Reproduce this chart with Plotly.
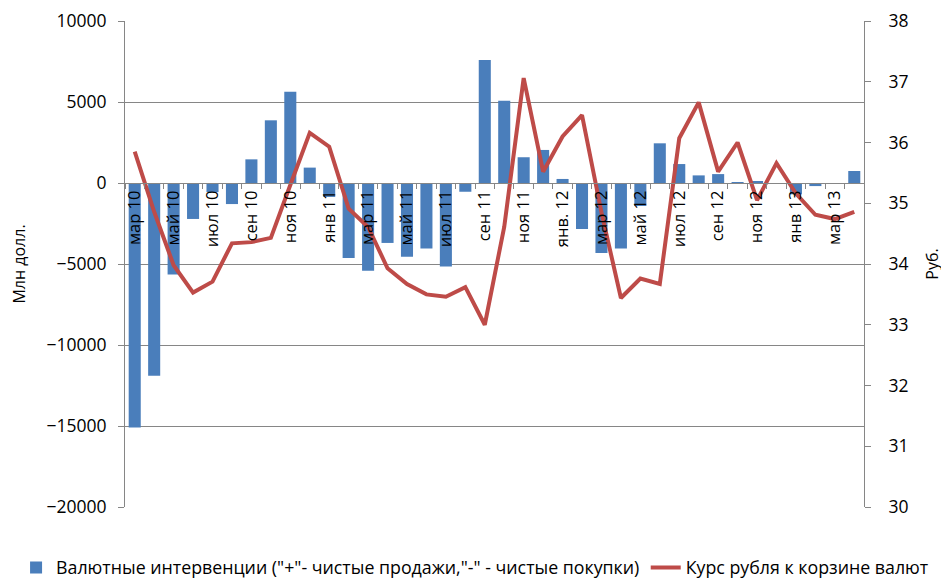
import plotly.graph_objects as go

months = ["мар 10", "апр 10", "май 10", "июн 10", "июл 10", "авг 10", "сен 10", "окт 10",
          "ноя 10", "дек 10", "янв 11", "фев 11", "мар 11", "апр 11", "май 11", "июн 11",
          "июл 11", "авг 11", "сен 11", "окт 11", "ноя 11", "дек 11", "янв. 12", "фев 12",
          "мар 12", "апр 12", "май 12", "июн 12", "июл 12", "авг 12", "сен 12", "окт 12",
          "ноя 12", "дек 12", "янв 13", "фев 13", "мар 13", "апр 13"]

interventions = [-15100, -11900, -5650, -2220, -560, -1300, 1460, 3870,
                 5640, 950, -860, -4630, -5410, -3700, -4550, -4050,
                 -5160, -540, 7590, 5080, 1590, 2040, 250, -2840,
                 -4320, -4050, -1420, 2450, 1170, 470, 550, 60,
                 80, 0, -700, -190, 0, 740]

rate = [35.85, 34.86, 33.98, 33.53, 33.71, 34.34, 34.36, 34.43,
        35.30, 36.16, 35.93, 34.91, 34.61, 33.93, 33.67, 33.50,
        33.46, 33.62, 33.00, 34.61, 37.06, 35.52, 36.10, 36.45,
        34.85, 33.44, 33.76, 33.67, 36.07, 36.66, 35.52, 36.00,
        35.05, 35.66, 35.16, 34.81, 34.74, 34.86]

tick_text = [m if i % 2 == 0 else "" for i, m in enumerate(months)]

bar_name = 'Валютные интервенции ("+"- чистые продажи,"-" - чистые покупки)'
line_name = "Курс рубля к корзине валют"

FONT = "Open Sans"
GRID = "#868686"

fig = go.Figure()
fig.add_trace(go.Bar(x=months, y=interventions, name=bar_name, legend="legend",
                     marker=dict(color="#4A7EBB", line=dict(width=0))))
fig.add_trace(go.Scatter(x=months, y=rate, name=line_name, yaxis="y2", mode="lines",
                         legend="legend2", line=dict(color="#BE4B48", width=4)))

fig.update_layout(
    width=949, height=579,
    margin=dict(l=117, r=93, t=13, b=80, autoexpand=False),
    paper_bgcolor="white", plot_bgcolor="white",
    font=dict(family=FONT, size=16, color="black"),
    bargap=0.38,
    showlegend=True,
    legend=dict(orientation="h", xref="container", yref="container",
                x=0.0085, y=0.033, xanchor="left", yanchor="middle",
                font=dict(size=17.8), itemwidth=30),
    legend2=dict(orientation="h", xref="container", yref="container",
                 x=0.672, y=0.033, xanchor="left", yanchor="middle",
                 font=dict(size=17.8), itemwidth=30),
    xaxis=dict(type="category", tickvals=months, ticktext=tick_text, tickangle=-90,
               anchor="free", position=2/3, showline=True, linecolor=GRID, linewidth=1,
               ticks="outside", tickson="boundaries", ticklen=5, tickcolor=GRID,
               showgrid=False, tickfont=dict(size=16.5), automargin=False),
    yaxis=dict(range=[-20000, 10000], dtick=5000, tickformat="d", showgrid=True,
               gridcolor=GRID, gridwidth=1, zeroline=False, showline=True, linecolor=GRID,
               ticks="outside", ticklen=6, tickcolor=GRID, ticklabelstandoff=8,
               title=dict(text="Млн долл.", standoff=22, font=dict(size=16)),
               tickfont=dict(size=17.5), automargin=False),
    yaxis2=dict(range=[30, 38], dtick=1, overlaying="y", side="right", showgrid=False,
                zeroline=False, showline=True, linecolor=GRID, ticks="outside",
                ticklen=6, tickcolor=GRID, ticklabelstandoff=14,
                title=dict(text="Руб.", standoff=19, font=dict(size=16)),
                tickfont=dict(size=17.5), automargin=False),
)

fig.write_html("out.html")
